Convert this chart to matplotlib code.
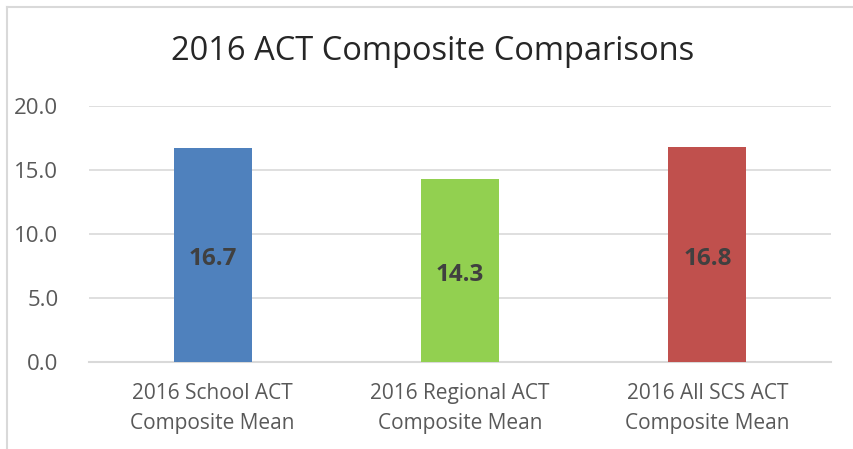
import numpy as np
import matplotlib.pyplot as plt
from matplotlib.lines import Line2D

categories = ['2016 School ACT\nComposite Mean',
              '2016 Regional ACT\nComposite Mean',
              '2016 All SCS ACT\nComposite Mean']
values = [16.7, 14.3, 16.8]
colors = ['#4F81BD', '#92D050', '#C0504D']
yticks = [0, 5, 10, 15, 20]

plt.rcParams['font.family'] = ['Open Sans', 'DejaVu Sans']

fig = plt.figure(figsize=(8.54, 4.49), dpi=100)
ax = fig.add_axes([0.1042, 0.1938, 0.8689, 0.5702])

x = np.arange(len(categories))
bars = ax.bar(x, values, width=0.316, color=colors, zorder=3)

for b, v in zip(bars, values):
    ax.annotate(f'{v:.1f}', (b.get_x() + b.get_width() / 2, v / 2),
                xytext=(0, -3), textcoords='offset points',
                ha='center', va='center', fontsize=17.5, fontweight='bold',
                color='#404040', zorder=4)

ax.set_xlim(-0.5, len(categories) - 0.5)
ax.set_ylim(0, 20)
ax.set_yticks(yticks)
ax.set_yticklabels([f'{t:.1f}' for t in yticks])
ax.set_xticks(x)
ax.set_xticklabels(categories, linespacing=1.55)
ax.tick_params(axis='y', length=0, pad=22, labelsize=16, labelcolor='#595959')
ax.tick_params(axis='x', length=0, pad=15, labelsize=15, labelcolor='#595959')
ax.grid(axis='y', color='#D9D9D9', lw=1.2, zorder=0)
for s in ['top', 'right', 'left']:
    ax.spines[s].set_visible(False)
ax.spines['bottom'].set_color('#D9D9D9')
ax.spines['bottom'].set_linewidth(1.5)

fig.text(0.5 + 6 / 854, 1 - 51 / 449, '2016 ACT Composite Comparisons', ha='center',
         va='center', fontsize=23.5, color='#262626')

# chart border (top and left)
fig.add_artist(Line2D([7 / 854, 1], [1 - 7 / 449, 1 - 7 / 449],
                      transform=fig.transFigure, color='#D9D9D9', lw=1.5))
fig.add_artist(Line2D([7 / 854, 7 / 854], [0, 1 - 7 / 449],
                      transform=fig.transFigure, color='#D9D9D9', lw=1.5))

fig.savefig('out.png', dpi=100)
